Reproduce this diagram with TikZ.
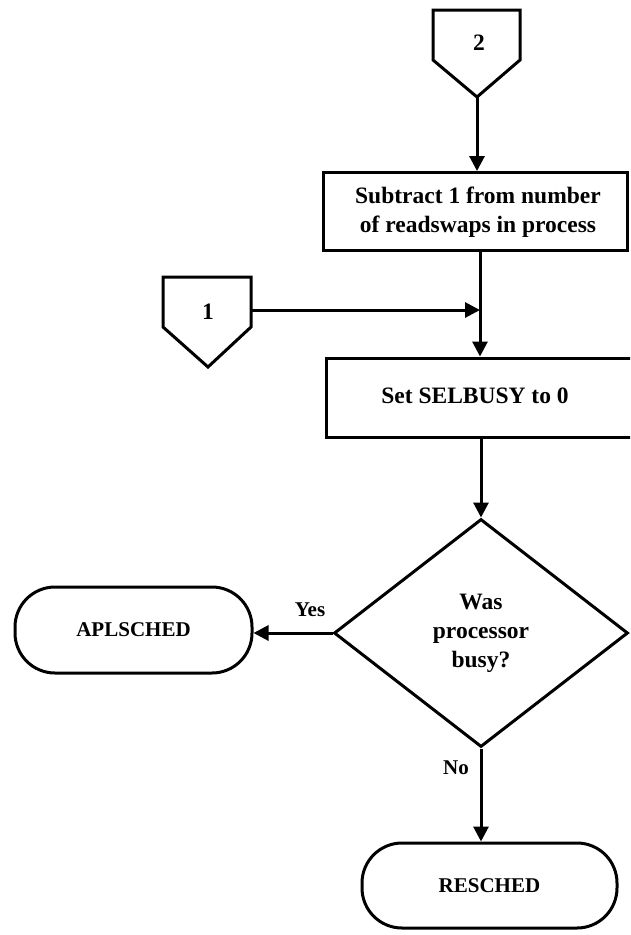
\documentclass[tikz,border=0pt]{standalone}
\usepackage{fontspec}
\setmainfont{Liberation Serif}
\usetikzlibrary{shapes.geometric,arrows.meta}
\begin{document}
\begin{tikzpicture}[x=1pt,y=-1pt,line width=3pt,
  every node/.style={font=\fontsize{21}{28}\selectfont\bfseries},
  bigtext/.style={font=\fontsize{23.5}{29}\selectfont\bfseries},
  procbox/.style={draw,rectangle,align=center,inner sep=0pt},
  termbox/.style={draw,rectangle,rounded corners=40pt,inner sep=0pt},
  decbox/.style={draw,diamond,align=center,inner sep=0pt,bigtext},
  lbl/.style={draw=none,inner sep=0pt,align=center},
  arr/.style={-{Triangle[length=15pt,width=15pt]}},
  offpage/.style={line join=miter}]
\useasboundingbox (0,0) rectangle (630,935);
\clip (0,0) rectangle (630,935);
% off-page connector 2
\draw[offpage] (433,10) -- (520,10) -- (520,60) -- (477,97) -- (433,60) -- cycle;
\node[lbl,bigtext] (c2) at (479,43) {2};
\coordinate (c2tip) at (477,97);
% process box 1
\node[procbox,minimum width=304pt,minimum height=78pt] (b1) at (475,211.5) {};
\node[lbl,bigtext] (b1t) at (478,212) {Subtract 1 from number\\of readswaps in process};
\draw[arr] (c2tip) -- (c2tip |- b1.north);
% off-page connector 1
\draw[offpage] (163,277) -- (251,277) -- (251,327) -- (208,367) -- (163,327) -- cycle;
\node[lbl,bigtext] (c1) at (208,312) {1};
\coordinate (c1out) at (251,310);
\coordinate (j) at (480,310);
% process box 2
\node[procbox,minimum width=314pt,minimum height=79pt] (b2) at (483,397.5) {};
\node[lbl,bigtext] (b2t) at (475,396) {Set SELBUSY to 0};
\draw (b1.south -| j) -- (j);
\draw[arr] (c1out) -- (j);
\draw[arr] (j) -- (j |- b2.north);
% decision
\node[decbox,minimum width=294pt,minimum height=228pt] (d) at (481,633)
  {Was\\processor\\busy?};
\draw[arr] (b2.south -| d.north) -- (d.north);
% terminals
\node[termbox,minimum width=237pt,minimum height=86pt] (aps) at (133.5,630) {APLSCHED};
\node[termbox,minimum width=255pt,minimum height=85pt] (res) at (489.5,885.5) {RESCHED};
\draw[arr] (d.west) -- (d.west -| aps.east);
\draw[arr] (d.south) -- (d.south |- res.north);
\node[lbl] (yes) at (310,610) {Yes};
\node[lbl] (no) at (456,768) {No};
\end{tikzpicture}
\end{document}
